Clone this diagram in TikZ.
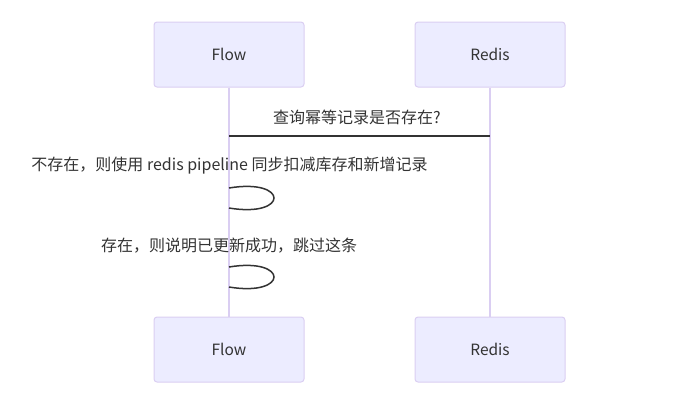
\documentclass[tikz,border=0pt]{standalone}
\usepackage{fontspec}
\setmainfont{Noto Sans CJK SC}
\definecolor{actfill}{HTML}{ECECFF}
\definecolor{actline}{HTML}{DACEF2}
\definecolor{txt}{HTML}{333333}
\begin{document}
\begin{tikzpicture}[x=1bp,y=-1bp,
  actor/.style={draw=actline,fill=actfill,line width=1bp,rounded corners=3bp,
    minimum width=150bp,minimum height=65bp,inner sep=0pt,text=txt,
    font=\fontsize{15.5bp}{18bp}\selectfont},
  life/.style={draw=actline,line width=1.5bp},
  msg/.style={draw=txt,line width=1.5bp},
  lbl/.style={text=txt,inner sep=0pt,font=\fontsize{16bp}{18bp}\selectfont}]
\useasboundingbox (0,0) rectangle (700,409);
\node[actor] (ft) at (229,54.5) {Flow};
\node[actor] (rt) at (490,54.5) {Redis};
\node[actor] (fb) at (229,349.5) {Flow};
\node[actor] (rb) at (490,349.5) {Redis};
\draw[life] (ft.south) -- (fb.north);
\draw[life] (rt.south) -- (rb.north);
\coordinate (m1) at (229,136);
\coordinate (m2) at (490,136);
\draw[msg] (m1) -- (m2);
\node[lbl] (l1) at (357,117) {查询幂等记录是否存在?};
\node[lbl] (l2) at (229.5,166) {不存在，则使用 redis pipeline 同步扣减库存和新增记录};
\coordinate (a1) at (229,188);
\coordinate (a2) at (229,208);
\draw[msg] (a1) .. controls (289,178) and (289,218) .. (a2);
\node[lbl] (l3) at (229,246) {存在，则说明已更新成功，跳过这条};
\coordinate (b1) at (229,267);
\coordinate (b2) at (229,287);
\draw[msg] (b1) .. controls (289,257) and (289,297) .. (b2);
\end{tikzpicture}
\end{document}
